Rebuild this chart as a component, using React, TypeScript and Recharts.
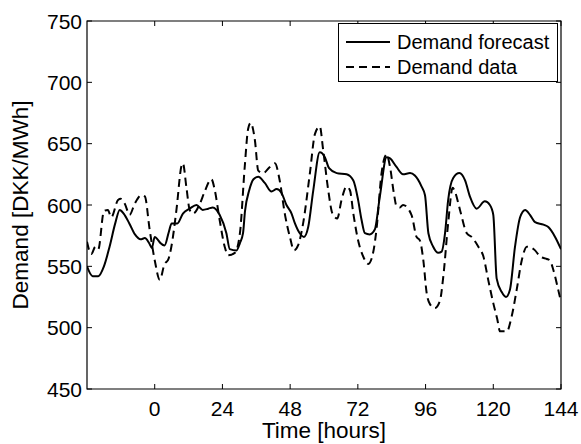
import React from 'react';
import {
  LineChart,
  Line,
  XAxis,
  YAxis,
  ReferenceArea,
  Label,
} from 'recharts';

// forecast (solid)
const forecastHours = [
  -24, -22, -20, -18, -16, -14, -12.4, -11, -9, -7, -5, -3.5, -2, -1, 0, 1, 2, 3.5, 5, 6, 8, 10, 12.4,
  14.8, 17, 19, 20.6, 23, 25.4, 26.6, 29, 30.2, 31.3, 32, 33.5, 35, 36.7, 39, 41.4, 43.2, 44.9, 46.7,
  48.5, 49.7, 51.4, 52.9, 54.4, 56.2, 58.5, 60.3, 61.8, 64.5, 68, 70.4, 72.1, 73.3, 74.5, 76.2, 78,
  79.8, 82.2, 83.4, 85.7, 88, 90.5, 92.2, 94.6, 95.8, 97, 98.7, 100.5, 101.7, 102.9, 104, 105.8, 108,
  110, 111.7, 114.1, 117, 118.8, 120, 121.2, 123, 124.5, 125.9, 127.7, 129.5, 131.3, 133, 134.8,
  137.8, 139.5, 141.9, 144,
];
const forecastValues = [
  550, 542, 542, 550, 566, 585, 596, 593, 585, 576, 572, 573, 569, 565, 574, 572, 569, 567, 578, 585,
  585, 593, 597, 600, 596, 597, 598, 592, 577, 564, 563, 569, 577, 595, 612, 621, 623, 618, 611, 613,
  610, 600, 593, 585, 577, 574, 582, 612, 643, 639, 630, 626, 625, 620, 604, 588, 577, 576, 580, 607,
  639, 638, 631, 625, 626, 624, 615, 608, 577, 566, 561, 562, 577, 604, 622, 626, 620, 607, 597, 603,
  600, 592, 540, 529, 525, 531, 566, 590, 596, 592, 586, 584, 582, 574, 564,
];

// demand data (dashed)
const dataHours = [
  -24, -22.5, -21, -20, -18, -16.6, -15.4, -13, -12, -10.6, -8.9, -7.1, -4.7, -3.5, -1.8, 0, 1.8, 3.5,
  4.7, 5.9, 7.7, 9.5, 10, 11.2, 12.4, 13.6, 16, 17.7, 20.1, 21.3, 23, 24.8, 26, 28.4, 30.2, 31.9, 33.1,
  34, 35.5, 36.7, 38.4, 40.8, 42.6, 44.3, 46.1, 47.9, 49.4, 50.8, 52.6, 55, 56.8, 58.5, 59.7, 61.5, 63,
  64.7, 66.2, 68, 69.2, 70.4, 72.1, 73.9, 75.7, 77.4, 78.6, 80.4, 82.2, 83.4, 84.8, 85.7, 86.9, 88, 91,
  92.8, 94, 95.2, 96.4, 97.6, 99.3, 101.1, 102.3, 104, 105.6, 106.4, 108.2, 110.6, 112.3, 114.7,
  116.5, 118.2, 120, 121.4, 122.4, 124.8, 126.5, 128.3, 130.1, 131.9, 133.6, 134.8, 136.6, 139, 140,
  141.3, 143, 144,
];
const dataValues = [
  570, 560, 566, 564, 595, 596, 590, 604, 605, 601, 592, 601, 608, 607, 580, 555, 539, 552, 555, 566,
  596, 632, 634, 615, 596, 593, 601, 611, 621, 612, 588, 566, 559, 561, 577, 631, 662, 667, 653, 628,
  626, 631, 634, 620, 593, 574, 563, 567, 585, 626, 658, 664, 645, 612, 593, 589, 604, 615, 612, 593,
  571, 558, 552, 561, 580, 626, 641, 631, 609, 599, 598, 600, 592, 574, 571, 555, 528, 519, 516, 522,
  542, 585, 614, 611, 596, 577, 574, 566, 558, 539, 520, 507, 497, 497, 509, 531, 555, 566, 565, 563,
  558, 556, 555, 547, 531, 521,
];

const xTicks = [0, 24, 48, 72, 96, 120, 144];
const yTicks = [450, 500, 550, 600, 650, 700, 750];

const forecast = forecastHours.map((h, i) => ({ h, v: forecastValues[i] }));
const demand = dataHours.map((h, i) => ({ h, v: dataValues[i] }));

const W = 581;
const H = 444;
const TOP = 21;
const LEFT = 87;
const RIGHT = 561;
const BOTTOM = 389;
const FONT = '"Liberation Sans", Arial, Helvetica, sans-serif';
const TICK_FS = 21;
const TITLE_FS = 22.5;
const LEGEND_FS = 20;
const DASH = '8 5';

const XTick = (props: any) => {
  const { x, payload } = props;
  return (
    <g>
      <line x1={x} x2={x} y1={BOTTOM} y2={BOTTOM - 5} stroke="#000" />
      <line x1={x} x2={x} y1={TOP} y2={TOP + 5} stroke="#000" />
      <text x={x} y={BOTTOM + 27} textAnchor="middle" fontSize={TICK_FS} fontFamily={FONT} fill="#000">
        {payload.value}
      </text>
    </g>
  );
};

const YTick = (props: any) => {
  const { y, payload } = props;
  return (
    <g>
      <line x1={LEFT} x2={LEFT + 5} y1={y} y2={y} stroke="#000" />
      <line x1={RIGHT} x2={RIGHT - 5} y1={y} y2={y} stroke="#000" />
      <text x={LEFT - 5} y={y + 7.5} textAnchor="end" fontSize={TICK_FS} fontFamily={FONT} fill="#000">
        {payload.value}
      </text>
    </g>
  );
};

// legend drawn on top of the chart, like the boxed one in the figure
const LegendBox = () => (
  <svg
    width={220}
    height={60}
    style={{ position: 'absolute', left: 338, top: 23, display: 'block' }}
  >
    <rect x={0.5} y={0.5} width={219} height={58} fill="#fff" stroke="#000" />
    <line x1={8} x2={52} y1={19} y2={19} stroke="#000" strokeWidth={2} />
    <text x={59} y={26} fontSize={LEGEND_FS} fontFamily={FONT} fill="#000">Demand forecast</text>
    <line x1={8} x2={52} y1={44} y2={44} stroke="#000" strokeWidth={2} strokeDasharray={DASH} />
    <text x={59} y={51} fontSize={LEGEND_FS} fontFamily={FONT} fill="#000">Demand data</text>
  </svg>
);

export default function App() {
  return (
    <div style={{ position: 'absolute', left: 0, top: 0, width: W, height: H, background: '#fff' }}>
      <LineChart width={W} height={H} margin={{ top: TOP, right: W - RIGHT, left: 0, bottom: 0 }}>
        <XAxis
          type="number"
          dataKey="h"
          domain={[-24, 144]}
          ticks={xTicks}
          allowDataOverflow
          axisLine={false}
          tickLine={false}
          tick={<XTick />}
          height={H - BOTTOM}
        >
          <Label
            content={() => (
              <text x={(LEFT + RIGHT) / 2} y={438} textAnchor="middle" fontSize={TITLE_FS} fontFamily={FONT} fill="#000">
                Time [hours]
              </text>
            )}
          />
        </XAxis>
        <YAxis
          type="number"
          domain={[450, 750]}
          ticks={yTicks}
          allowDataOverflow
          axisLine={false}
          tickLine={false}
          tick={<YTick />}
          width={LEFT}
        >
          <Label
            content={() => (
              <text
                x={0}
                y={0}
                transform={`translate(28, ${(TOP + BOTTOM) / 2}) rotate(-90)`}
                textAnchor="middle"
                fontSize={TITLE_FS}
                fontFamily={FONT}
                fill="#000"
              >
                Demand [DKK/MWh]
              </text>
            )}
          />
        </YAxis>
        <ReferenceArea x1={-24} x2={144} y1={450} y2={750} fill="none" stroke="#000" strokeWidth={1.2} />
        <Line
          data={forecast}
          dataKey="v"
          type="monotone"
          stroke="#000"
          strokeWidth={2}
          dot={false}
          isAnimationActive={false}
        />
        <Line
          data={demand}
          dataKey="v"
          type="monotone"
          stroke="#000"
          strokeWidth={2}
          strokeDasharray={DASH}
          dot={false}
          isAnimationActive={false}
        />
      </LineChart>
      <LegendBox />
    </div>
  );
}
